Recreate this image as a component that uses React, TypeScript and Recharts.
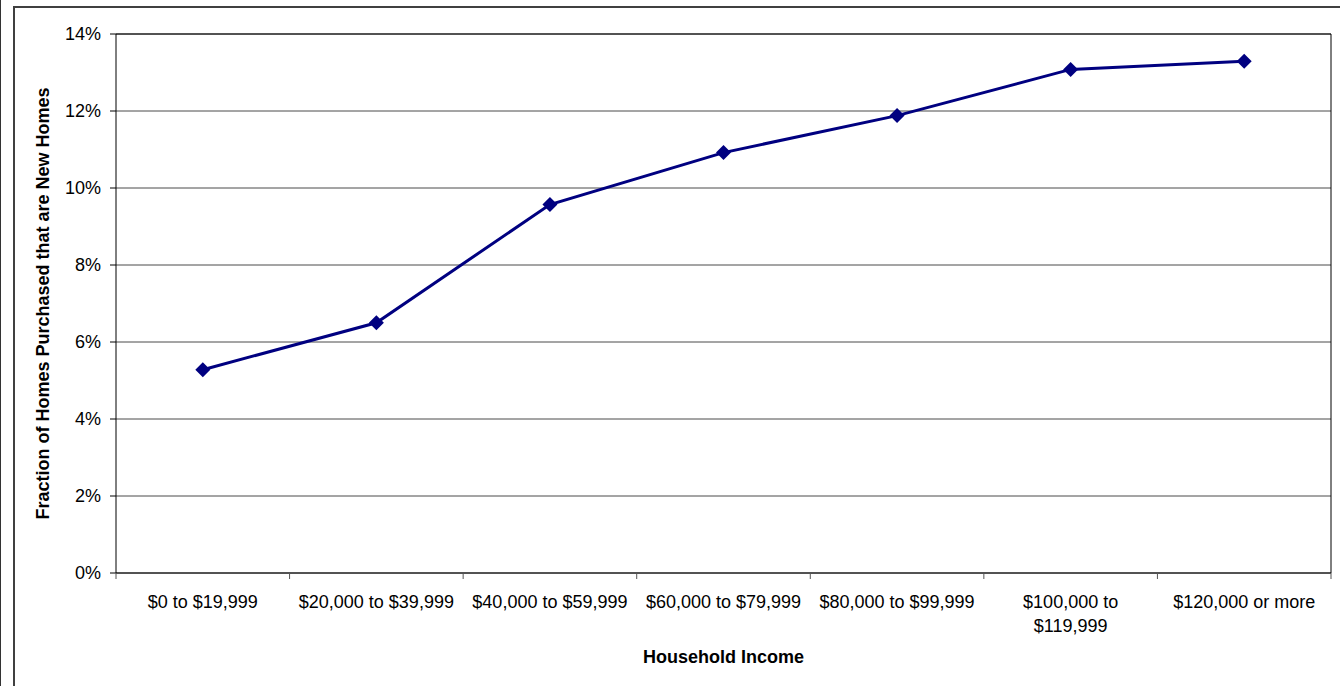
import { CartesianGrid, Label, Line, LineChart, ReferenceLine, XAxis, YAxis } from 'recharts'

const categories = [
  '$0 to $19,999',
  '$20,000 to $39,999',
  '$40,000 to $59,999',
  '$60,000 to $79,999',
  '$80,000 to $99,999',
  '$100,000 to $119,999',
  '$120,000 or more',
]
const shareNew = [5.28, 6.5, 9.57, 10.92, 11.88, 13.08, 13.29]
const yTicks = [0, 2, 4, 6, 8, 10, 12, 14]

const data = categories.map((name, i) => ({ pos: i + 0.5, name, value: shareNew[i] }))
const xTicks = Array.from({ length: categories.length * 2 + 1 }, (_, i) => i / 2)

const FONT = '"Liberation Sans", Arial, sans-serif'
const FS = 18

function CategoryTick({ x, y, payload }: any) {
  const v = Number(payload.value)
  if (Number.isInteger(v)) {
    return <line x1={x} x2={x} y1={y} y2={y + 6} stroke="#555" strokeWidth={1} />
  }
  const label = categories[Math.floor(v)] ?? ''
  const cut = label.indexOf(' to ')
  const lines = label.length > 18 ? [label.slice(0, cut + 3), label.slice(cut + 4)] : [label]
  return (
    <text x={x} y={y + 35} textAnchor="middle" fontSize={FS} fill="#000" fontFamily={FONT}>
      {lines.map((l, i) => (
        <tspan key={i} x={x} dy={i === 0 ? 0 : 24}>
          {l}
        </tspan>
      ))}
    </text>
  )
}

function Diamond({ cx, cy }: any) {
  if (cx == null || cy == null) return null
  const r = 7.5
  return <polygon points={`${cx},${cy - r} ${cx + r},${cy} ${cx},${cy + r} ${cx - r},${cy}`} fill="#000080" />
}

export default function App() {
  return (
    <div style={{ position: 'absolute', left: 0, top: 0, width: 1340, height: 686, background: '#fff', fontFamily: FONT }}>
      <div style={{ position: 'absolute', left: 0, top: 0, width: 1, height: 686, background: '#333' }} />
      <div style={{ position: 'absolute', left: 13, top: 6, width: 1327, height: 680, borderLeft: '2px solid #404040', borderTop: '2px solid #404040', boxSizing: 'border-box' }} />
      <div style={{ position: 'absolute', left: 0, top: 0 }}>
        <LineChart width={1340} height={686} data={data} margin={{ top: 34, right: 9, bottom: 0, left: 0 }}>
          <CartesianGrid vertical={false} stroke="#4a4a4a" />
          <XAxis
            dataKey="pos"
            type="number"
            domain={[0, 7]}
            ticks={xTicks}
            interval={0}
            tickLine={false}
            tickSize={0}
            tickMargin={0}
            height={113}
            axisLine={{ stroke: '#000' }}
            tick={<CategoryTick />}
          >
            <Label value="Household Income" position="insideBottom" offset={23} fontSize={FS} fontWeight="bold" fill="#000" fontFamily={FONT} />
          </XAxis>
          <YAxis
            type="number"
            domain={[0, 14]}
            ticks={yTicks}
            interval={0}
            width={116}
            tickSize={6}
            tickMargin={9}
            tickFormatter={(v: number) => `${v}%`}
            axisLine={{ stroke: '#000' }}
            tickLine={{ stroke: '#000' }}
            tick={{ fill: '#000', fontSize: FS, fontFamily: FONT }}
          >
            <Label
              content={({ viewBox }: any) => {
                const cx = viewBox.x + 43
                const cy = viewBox.y + viewBox.height / 2
                return (
                  <text x={cx} y={cy} transform={`rotate(-90, ${cx}, ${cy})`} textAnchor="middle" dominantBaseline="central" fontSize={FS} fontWeight="bold" fill="#000" fontFamily={FONT}>
                    Fraction of Homes Purchased that are New Homes
                  </text>
                )
              }}
            />
          </YAxis>
          <ReferenceLine y={14} stroke="#000" />
          <ReferenceLine x={7} stroke="#000" />
          <Line type="linear" dataKey="value" stroke="#000080" strokeWidth={3} dot={<Diamond />} activeDot={false} isAnimationActive={false} />
        </LineChart>
      </div>
    </div>
  )
}
